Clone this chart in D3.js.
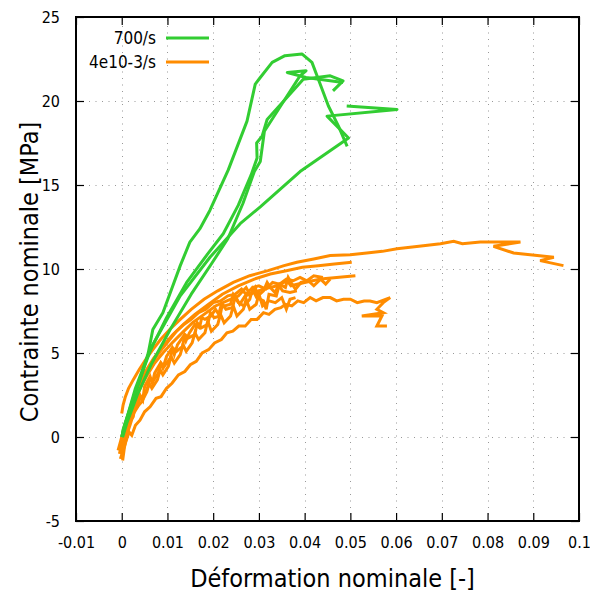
<!DOCTYPE html>
<html><head><meta charset="utf-8">
<script src="https://cdn.jsdelivr.net/npm/d3@7"></script>
<style>
body{margin:0;background:#fff;}
text{font-family:'Liberation Sans Narrow','DejaVu Sans Condensed','Open Sans',sans-serif;fill:#000;}
</style></head><body>
<script>
const xTicks=[-0.01,0,0.01,0.02,0.03,0.04,0.05,0.06,0.07,0.08,0.09,0.1];
const xTickLabels=["-0.01","0","0.01","0.02","0.03","0.04","0.05","0.06","0.07","0.08","0.09","0.1"];
const yTicks=[-5,0,5,10,15,20,25];
const yTickLabels=["-5","0","5","10","15","20","25"];
const seriesNames=["700/s","4e10-3/s"];
const seriesColors=["#32cd32","#ff8c00"];

// 700/s
const g1=[[0.0001,0.0],[0.0003,0.45],[0.0018,1.6],[0.004,3.4],[0.0058,5.0],[0.0068,6.4],[0.009,7.4],[0.0128,10.2],[0.0149,11.6],[0.0171,12.4],[0.0193,13.5],[0.0233,15.9],[0.0274,18.8],[0.0292,21.0],[0.0303,21.4],[0.0329,22.3],[0.0357,22.7],[0.0394,22.8],[0.0416,22.3],[0.043,21.3],[0.0452,19.7],[0.0474,18.5],[0.0493,17.3]];
const g2=[[0.0,0.0],[0.0012,1.2],[0.003,2.9],[0.0058,4.9],[0.0098,7.1],[0.0142,9.2],[0.0188,10.9],[0.0222,12.1],[0.0255,13.8],[0.0283,15.6],[0.0296,16.6],[0.0295,17.5],[0.0307,17.9],[0.0318,18.9],[0.0397,21.3],[0.0456,21.5],[0.0484,21.2],[0.0462,20.6]];
const g3=[[0.0002,0.0],[0.0012,0.9],[0.0034,2.5],[0.0064,4.3],[0.0106,6.4],[0.0152,8.5],[0.0196,10.3],[0.0232,11.8],[0.0265,13.9],[0.029,15.8],[0.0303,16.4],[0.0312,18.2],[0.039,21.5],[0.0403,21.8],[0.0362,21.7],[0.0403,21.4],[0.0484,21.1]];
const g4=[[0.0492,19.7],[0.0602,19.5],[0.0449,19.1],[0.0496,17.8],[0.039,15.8],[0.0303,13.7],[0.0259,12.7],[0.0193,10.7],[0.0128,8.4],[0.0066,5.4],[0.0031,2.8],[0.0006,0.7],[0.0,0.0]];

// 4e10-3/s
const o1=[[0.0,1.4],[0.0003,1.9],[0.0008,2.4],[0.0015,2.9],[0.0025,3.4],[0.0038,4.0],[0.0052,4.6],[0.0068,5.2],[0.0085,5.8],[0.0105,6.4],[0.0128,7.0],[0.0152,7.6],[0.018,8.2],[0.021,8.7],[0.0244,9.2],[0.028,9.6],[0.032,9.9],[0.0355,10.2],[0.0383,10.4],[0.042,10.6],[0.0456,10.8],[0.05,10.85],[0.0536,10.95],[0.057,11.05],[0.0602,11.2],[0.065,11.35],[0.0697,11.5],[0.0726,11.65],[0.0745,11.5],[0.0784,11.6],[0.083,11.6],[0.0872,11.6],[0.0813,11.35],[0.0857,10.95],[0.0945,10.7],[0.0915,10.5],[0.0966,10.2]];
const o2=[[0.0002,-0.6],[0.0008,0.3],[0.0015,1.2],[0.0025,2.2],[0.0038,3.1],[0.0052,3.9],[0.007,4.7],[0.009,5.4],[0.0112,6.1],[0.0135,6.7],[0.016,7.3],[0.019,7.9],[0.022,8.5],[0.0255,9.0],[0.029,9.4],[0.0325,9.7],[0.036,9.9],[0.0395,10.1],[0.043,10.2],[0.0465,10.3],[0.0503,10.4]];
const o3=[[0.0,-1.0],[0.0006,-0.2],[0.0012,0.6],[0.002,1.4],[0.003,2.2],[0.0042,3.0],[0.0056,3.7],[0.0072,4.4],[0.009,5.0],[0.011,5.6],[0.0132,6.2],[0.0155,6.8],[0.018,7.3],[0.0205,7.8],[0.023,8.1],[0.0255,8.4],[0.0272,8.9],[0.028,8.5],[0.031,8.8],[0.034,9.0],[0.0362,9.3],[0.037,9.0],[0.04,9.2],[0.0435,9.4],[0.047,9.5],[0.0511,9.6]];
const o4=[[-0.0005,-1.0],[0.0,-0.4],[0.0005,0.2],[0.001,0.0],[0.0015,0.8],[0.0022,1.3],[0.003,1.9],[0.004,2.5],[0.0046,2.2],[0.005,3.0],[0.0062,3.6],[0.0067,3.2],[0.0072,3.8],[0.0085,4.4],[0.009,4.1],[0.0098,4.8],[0.011,5.3],[0.0115,4.9],[0.0122,5.5],[0.0135,6.0],[0.014,5.7],[0.0148,6.2],[0.016,6.7],[0.017,6.5],[0.0175,7.1],[0.0182,7.0],[0.0195,7.2],[0.0205,7.6],[0.0212,7.3],[0.0218,7.9],[0.0225,7.8],[0.0238,7.9],[0.0244,8.5],[0.025,8.3],[0.0258,7.9],[0.027,8.4],[0.0283,8.5],[0.0292,8.9],[0.0298,8.4],[0.031,8.7],[0.0318,9.2],[0.0325,8.9],[0.0335,8.6],[0.0345,9.1],[0.0358,8.9],[0.0364,9.5],[0.037,9.2],[0.038,8.8],[0.0392,9.2],[0.0408,9.3],[0.042,9.0],[0.0435,9.4],[0.0446,9.1],[0.0456,9.4]];
const o5=[[0.0002,-1.4],[0.0006,-0.6],[0.0012,0.2],[0.0018,0.7],[0.0026,1.4],[0.0035,1.8],[0.004,2.4],[0.0045,2.2],[0.0056,2.9],[0.0062,3.5],[0.0068,3.3],[0.008,3.8],[0.0086,4.4],[0.0093,4.2],[0.0106,4.7],[0.0112,5.3],[0.012,5.1],[0.0133,5.4],[0.0138,6.1],[0.0146,5.9],[0.016,6.1],[0.0165,6.8],[0.0174,6.5],[0.0188,6.7],[0.0194,7.4],[0.0202,7.1],[0.0215,7.2],[0.022,7.9],[0.0228,7.6],[0.0242,7.7],[0.0248,8.3],[0.0255,8.0],[0.0268,7.8],[0.028,8.2],[0.0286,8.8],[0.0295,8.3],[0.031,8.1],[0.0316,7.6],[0.0322,8.5],[0.0338,8.4],[0.0344,9.0],[0.0352,8.7],[0.0368,8.6],[0.0383,8.7]];
const o6=[[-0.0003,-1.3],[0.0004,-0.7],[0.001,-0.2],[0.0016,0.3],[0.0022,0.1],[0.003,0.7],[0.004,1.0],[0.005,1.5],[0.0062,1.8],[0.0075,2.3],[0.0086,2.4],[0.0098,2.9],[0.011,3.2],[0.0124,3.7],[0.0138,3.9],[0.015,4.3],[0.0163,4.5],[0.0176,5.0],[0.019,5.2],[0.0203,5.6],[0.0218,5.8],[0.023,6.2],[0.0243,6.3],[0.0256,6.6],[0.027,6.6],[0.0283,7.0],[0.0296,7.0],[0.031,7.4],[0.0322,7.3],[0.0335,7.6],[0.0348,7.7],[0.0358,7.9],[0.0372,7.8],[0.0385,8.1],[0.0398,8.0],[0.0412,8.3],[0.0425,8.1],[0.044,8.3],[0.0456,8.3],[0.047,8.1],[0.0485,8.2],[0.05,8.2],[0.0515,8.0],[0.053,8.1],[0.0543,8.1],[0.0558,8.0],[0.0587,8.3],[0.0572,8.0],[0.0558,7.6],[0.0572,7.4],[0.0525,7.2],[0.0569,7.2],[0.0558,6.6],[0.058,6.6]];
const o7=[[-0.0008,-0.8],[-0.0002,-0.2],[0.0004,0.4],[0.001,0.2],[0.0017,0.9],[0.0025,1.2],[0.003,1.9],[0.0034,1.8],[0.0044,2.1],[0.0055,2.7],[0.006,3.2],[0.0066,2.9],[0.0078,3.4],[0.0084,4.0],[0.009,3.7],[0.0102,4.2],[0.0108,4.8],[0.0115,4.4],[0.0128,4.9],[0.0134,5.5],[0.0141,5.1],[0.0154,5.6],[0.016,6.2],[0.0168,5.8],[0.0182,6.2],[0.0188,6.9],[0.0196,6.3],[0.021,6.7],[0.0216,7.3],[0.0224,6.8],[0.0238,7.2],[0.0244,7.8],[0.0252,7.2],[0.0266,7.6],[0.0272,8.2],[0.028,7.6],[0.0294,7.9],[0.03,8.5],[0.0308,7.8],[0.0322,8.1],[0.0336,8.0],[0.035,8.3],[0.036,7.6],[0.0368,8.2],[0.038,8.3]];
const o8=[[0.0,-0.9],[0.0004,-0.1],[0.0009,0.6],[0.0015,1.3],[0.0022,1.9],[0.003,2.5],[0.004,3.1],[0.0051,3.7],[0.0063,4.2],[0.0076,4.8],[0.009,5.3],[0.0105,5.8],[0.012,6.3],[0.0136,6.7],[0.0152,7.0],[0.0168,7.4],[0.0184,7.6],[0.02,8.0],[0.0216,8.1],[0.0232,8.4],[0.0248,8.5],[0.0262,8.8],[0.0272,8.5],[0.0286,8.9],[0.03,9.0],[0.0315,8.8],[0.033,9.2],[0.0345,9.1],[0.036,9.4],[0.0375,9.3],[0.039,9.5],[0.0405,9.3],[0.042,9.6],[0.044,9.5]];

const greenCurves=[g1,g2,g3,g4];
const orangeCurves=[o1,o2,o3,o4,o5,o6,o7,o8];

const W=590,H=597;
const L=76,R=579,T=17,B=521;
const svg=d3.select("body").append("svg").attr("width",W).attr("height",H);
const x=d3.scaleLinear().domain([-0.01,0.1]).range([L,R]);
const y=d3.scaleLinear().domain([-5,25]).range([B,T]);

// grid
const grid=svg.append("g").attr("stroke","#999").attr("stroke-width",1).attr("stroke-dasharray","1,5.5");
grid.selectAll(".gx").data(xTicks.slice(1,-1)).enter().append("line")
 .attr("x1",d=>Math.round(x(d))+0.5).attr("x2",d=>Math.round(x(d))+0.5).attr("y1",B).attr("y2",T);
grid.selectAll(".gy").data(yTicks.slice(1,-1)).enter().append("line")
 .attr("y1",d=>Math.round(y(d))+0.5).attr("y2",d=>Math.round(y(d))+0.5).attr("x1",L).attr("x2",R);

// axes
const fmtX=d=>xTickLabels[xTicks.indexOf(d)];
const fmtY=d=>yTickLabels[yTicks.indexOf(d)];
const ax=svg.append("g").attr("transform",`translate(0,${B})`).call(d3.axisBottom(x).tickValues(xTicks).tickSize(-8).tickPadding(16).tickFormat(fmtX));
const axT=svg.append("g").attr("transform",`translate(0,${T})`).call(d3.axisTop(x).tickValues(xTicks).tickSize(-8).tickFormat(""));
const ay=svg.append("g").attr("transform",`translate(${L},0)`).call(d3.axisLeft(y).tickValues(yTicks).tickSize(-8).tickPadding(16).tickFormat(fmtY));
const ayR=svg.append("g").attr("transform",`translate(${R},0)`).call(d3.axisRight(y).tickValues(yTicks).tickSize(-8).tickFormat(""));
[ax,axT,ay,ayR].forEach(a=>{a.select(".domain").remove();a.selectAll("line").attr("stroke","#000").attr("stroke-width",1.2);});
ax.selectAll("text").attr("font-size",16).attr("font-family",null);
ay.selectAll("text").attr("font-size",16).attr("font-family",null);

// curves
const line=d3.line().x(d=>x(d[0])).y(d=>y(d[1]));
const plot=svg.append("g");
plot.selectAll(".o").data(orangeCurves).enter().append("path")
 .attr("d",line).attr("fill","none").attr("stroke",seriesColors[1]).attr("stroke-width",3).attr("stroke-linejoin","miter");
plot.selectAll(".g").data(greenCurves).enter().append("path")
 .attr("d",line).attr("fill","none").attr("stroke",seriesColors[0]).attr("stroke-width",3).attr("stroke-linejoin","round");

// border
svg.append("rect").attr("x",L).attr("y",T).attr("width",R-L).attr("height",B-T).attr("fill","none").attr("stroke","#000").attr("stroke-width",2);

// legend
const leg=svg.append("g");
seriesNames.forEach((n,i)=>{
  const yy=38+i*24;
  leg.append("text").attr("x",156).attr("y",yy).attr("dy","0.35em").attr("text-anchor","end").attr("font-size",17).text(n);
  leg.append("line").attr("x1",166).attr("x2",209).attr("y1",yy).attr("y2",yy).attr("stroke",seriesColors[i]).attr("stroke-width",3);
});

// titles
svg.append("text").attr("x",(L+R)/2+5).attr("y",578).attr("dy","0.35em").attr("text-anchor","middle").attr("font-size",25).text("Déformation nominale [-]");
svg.append("text").attr("transform",`translate(29,${(T+B)/2+3}) rotate(-90)`).attr("dy","0.35em").attr("text-anchor","middle").attr("font-size",25).text("Contrainte nominale [MPa]");
</script></body></html>
